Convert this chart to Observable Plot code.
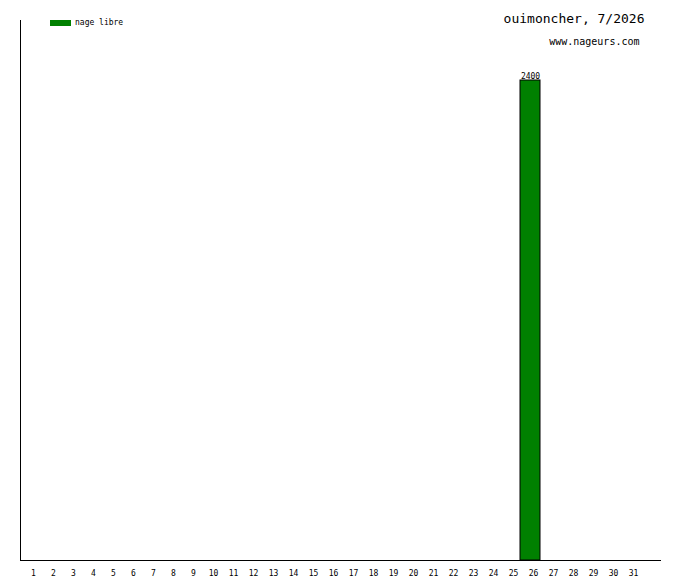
<!DOCTYPE html>
<html>
<head>
<meta charset="utf-8">
<script src="https://cdn.jsdelivr.net/npm/d3@7"></script>
<script src="https://cdn.jsdelivr.net/npm/@observablehq/plot@0.6"></script>
<style>
  body { margin: 0; background: #fff; }
  #chart svg { display: block; }
</style>
</head>
<body>
<div id="chart"></div>
<script>
// jours du mois
const days = d3.range(1, 32);
// distance nagée (m) par jour, nage libre
const libre = days.map(d => (d === 26 ? 2400 : 0));
const title = "ouimoncher, 7/2026";
const site = "www.nageurs.com";
const legendLabel = "nage libre";

const data = days.map((d, i) => ({ day: d, value: libre[i] }));
const font = "'DejaVu Sans Mono', monospace";

const chart = Plot.plot({
  width: 680,
  height: 580,
  marginLeft: 20,
  marginRight: 20,
  marginTop: 20,
  marginBottom: 20,
  style: { fontFamily: font, background: "white" },
  x: { type: "band", domain: days, range: [20, 640], padding: 0, label: null },
  y: { domain: [0, 2700], axis: null },
  marks: [
    Plot.axisX({ tickSize: 0, tickPadding: 10, fontSize: 8, dx: 3, fill: "black", label: null }),
    Plot.barY(data.filter(d => d.value > 0), {
      x: "day", y: "value", fill: "#008000", stroke: "black", strokeWidth: 1
    }),
    Plot.text(data.filter(d => d.value > 0), {
      x: "day", y: "value", text: d => String(d.value),
      lineAnchor: "bottom", dy: -2, fontSize: 8, fill: "black"
    }),
    Plot.frame({ anchor: "left", stroke: "black" }),
    Plot.frame({ anchor: "bottom", stroke: "black" }),
    Plot.text([title], {
      frameAnchor: "top-right", textAnchor: "end", dx: -16, dy: -7,
      fontSize: 13, fill: "black"
    }),
    Plot.text([site], {
      frameAnchor: "top-right", textAnchor: "end", dx: -21, dy: 17,
      fontSize: 10, fill: "black"
    })
  ]
});

// légende en haut à gauche
const svg = d3.select(chart);
svg.append("rect")
  .attr("x", 50).attr("y", 20).attr("width", 21).attr("height", 6)
  .attr("fill", "#008000");
svg.append("text")
  .attr("x", 75).attr("y", 25)
  .attr("text-anchor", "start")
  .attr("font-size", 8).attr("font-family", font)
  .text(legendLabel);

d3.select("#chart").append(() => chart);
</script>
</body>
</html>
